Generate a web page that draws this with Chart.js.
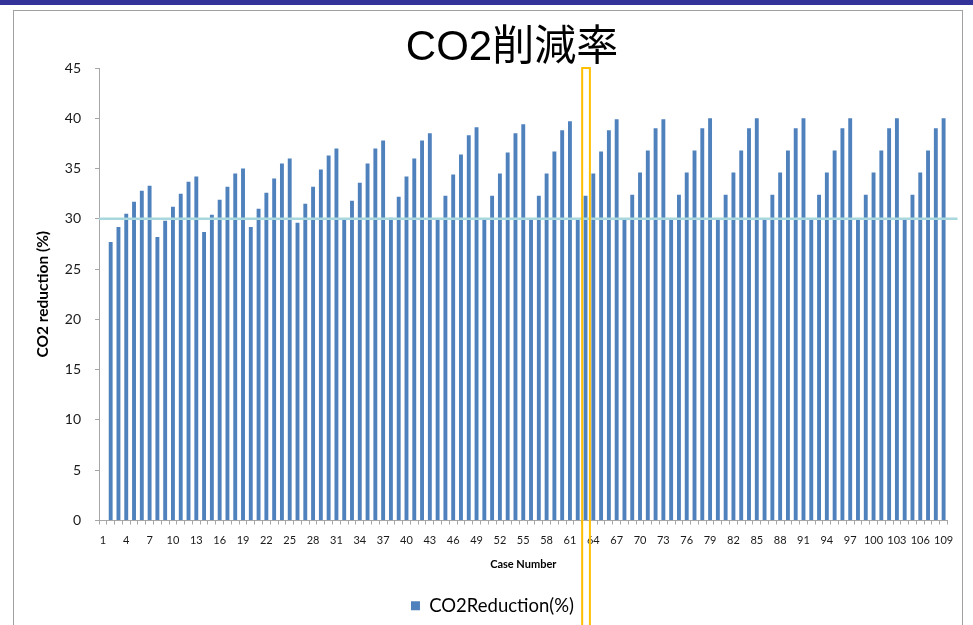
<!DOCTYPE html>
<html>
<head>
<meta charset="utf-8">
<title>CO2削減率</title>
<script src="https://cdn.jsdelivr.net/npm/chart.js@4/dist/chart.umd.min.js"></script>
<style>
  html, body { margin: 0; padding: 0; background: #ffffff; }
  #wrap { position: relative; width: 973px; height: 625px; }
  canvas { display: block; }
</style>
</head>
<body>
<div id="wrap"><canvas id="chart" width="973" height="625"></canvas></div>
<script>
// Case numbers along the horizontal axis
const caseNumbers = [
  1, 2, 3, 4, 5, 6, 7, 8, 9, 10, 11, 12, 13, 14, 15, 16, 17, 18, 19, 20,
  21, 22, 23, 24, 25, 26, 27, 28, 29, 30, 31, 32, 33, 34, 35, 36, 37, 38, 39, 40,
  41, 42, 43, 44, 45, 46, 47, 48, 49, 50, 51, 52, 53, 54, 55, 56, 57, 58, 59, 60,
  61, 62, 63, 64, 65, 66, 67, 68, 69, 70, 71, 72, 73, 74, 75, 76, 77, 78, 79, 80,
  81, 82, 83, 84, 85, 86, 87, 88, 89, 90, 91, 92, 93, 94, 95, 96, 97, 98, 99, 100,
  101, 102, 103, 104, 105, 106, 107, 108, 109
];

// CO2 reduction (%) per case (case 1 has no value)
const co2Reduction = [
  null, 27.7, 29.2, 30.5, 31.7, 32.8, 33.3,
  28.2, 29.8, 31.2, 32.5, 33.7, 34.2,
  28.7, 30.4, 31.9, 33.2, 34.5, 35.0,
  29.2, 31.0, 32.6, 34.0, 35.5, 36.0,
  29.6, 31.5, 33.2, 34.9, 36.3, 37.0,
  29.9, 31.8, 33.6, 35.5, 37.0, 37.8,
  30.1, 32.2, 34.2, 36.0, 37.8, 38.5,
  30.0, 32.3, 34.4, 36.4, 38.3, 39.1,
  30.0, 32.3, 34.5, 36.6, 38.5, 39.4,
  30.0, 32.3, 34.5, 36.7, 38.8, 39.7,
  30.0, 32.3, 34.5, 36.7, 38.8, 39.9,
  30.0, 32.4, 34.6, 36.8, 39.0, 39.9,
  30.0, 32.4, 34.6, 36.8, 39.0, 40.0,
  30.0, 32.4, 34.6, 36.8, 39.0, 40.0,
  30.0, 32.4, 34.6, 36.8, 39.0, 40.0,
  30.0, 32.4, 34.6, 36.8, 39.0, 40.0,
  30.0, 32.4, 34.6, 36.8, 39.0, 40.0,
  30.0, 32.4, 34.6, 36.8, 39.0, 40.0
];

// Value-axis range and tick spacing
const yMin = 0;
const yMax = 45;
const yStep = 5;

// Show every third case number as a tick label
const xLabelEvery = 3;

// Reference level and the highlighted case
const targetLevel = 30;
const highlightedCase = 63;

const chartTitle = 'CO2削減率';
const seriesName = 'CO2Reduction(%)';
const yAxisTitle = 'CO2 reduction (%)';
const xAxisTitle = 'Case Number';

const BAR_BLUE = '#4f81bd';
const AXIS_GRAY = '#a6a6a6';

// Slide band, frame and white background behind the chart
const slideFrame = {
  id: 'slideFrame',
  beforeDraw(chart) {
    const ctx = chart.ctx;
    ctx.save();
    ctx.fillStyle = '#ffffff';
    ctx.fillRect(0, 0, chart.width, chart.height);
    ctx.fillStyle = '#333399';
    ctx.fillRect(0, 0, chart.width, 5);
    ctx.strokeStyle = '#a0a0a0';
    ctx.lineWidth = 1;
    ctx.strokeRect(13.5, 10.5, 949, chart.height + 20);
    ctx.restore();
  }
};

// Horizontal reference line at the target level
const targetLine = {
  id: 'targetLine',
  afterDatasetsDraw(chart) {
    const { ctx, chartArea, scales } = chart;
    const y = scales.y.getPixelForValue(targetLevel);
    ctx.save();
    ctx.strokeStyle = '#a9d7de';
    ctx.lineWidth = 2.5;
    ctx.beginPath();
    ctx.moveTo(chartArea.left, y);
    ctx.lineTo(chartArea.right + 10, y);
    ctx.stroke();
    ctx.restore();
  }
};

// Outline around the highlighted case, from the top of the value axis down
const caseHighlight = {
  id: 'caseHighlight',
  afterDraw(chart) {
    const { ctx, scales } = chart;
    const idx = caseNumbers.indexOf(highlightedCase);
    const x = scales.x.getPixelForValue(idx);
    const half = (scales.x.width / caseNumbers.length) * 0.56;
    const top = scales.y.getPixelForValue(yMax);
    ctx.save();
    ctx.strokeStyle = '#ffc000';
    ctx.lineWidth = 2;
    ctx.strokeRect(x - half + 1, top, half * 2 - 1, chart.height - top + 10);
    ctx.restore();
  }
};

// Chart heading
const chartHeading = {
  id: 'chartHeading',
  afterDraw(chart) {
    const ctx = chart.ctx;
    ctx.save();
    ctx.fillStyle = '#000000';
    ctx.font = '42px "Liberation Sans", "Noto Sans CJK JP", sans-serif';
    ctx.textAlign = 'center';
    ctx.textBaseline = 'middle';
    ctx.fillText(chartTitle, 512, 48);
    ctx.restore();
  }
};

new Chart(document.getElementById('chart'), {
  type: 'bar',
  data: {
    labels: caseNumbers,
    datasets: [{
      label: seriesName,
      data: co2Reduction,
      backgroundColor: BAR_BLUE,
      borderWidth: 0,
      categoryPercentage: 1.0,
      barPercentage: 0.5
    }]
  },
  options: {
    responsive: false,
    devicePixelRatio: 1,
    animation: false,
    layout: { padding: { left: 37.5, right: 25.5, top: 68, bottom: 0 } },
    plugins: {
      title: { display: false },
      tooltip: { enabled: false },
      legend: {
        position: 'bottom',
        labels: {
          boxWidth: 9,
          boxHeight: 9,
          padding: 10,
          color: '#000000',
          font: { family: 'Lato', size: 18.5 }
        }
      }
    },
    scales: {
      x: {
        offset: true,
        grid: {
          display: true,
          offset: true,
          drawOnChartArea: false,
          drawTicks: true,
          tickLength: 4,
          color: AXIS_GRAY
        },
        border: { display: true, color: AXIS_GRAY, width: 1 },
        ticks: {
          autoSkip: false,
          maxRotation: 0,
          minRotation: 0,
          padding: 9,
          color: '#1a1a1a',
          font: { family: 'Lato', size: 11 },
          callback: (value, index) => (index % xLabelEvery === 0 ? String(caseNumbers[index]) : '')
        },
        title: {
          display: true,
          text: xAxisTitle,
          color: '#000000',
          font: { family: 'Lato', size: 11, weight: 'bold' },
          padding: { top: 0, bottom: 15.4 }
        },
        afterFit: (scale) => { scale.height = 66; }
      },
      y: {
        min: yMin,
        max: yMax,
        grid: {
          drawOnChartArea: false,
          drawTicks: true,
          tickLength: 4,
          color: AXIS_GRAY
        },
        border: { display: true, color: AXIS_GRAY, width: 1 },
        ticks: {
          stepSize: yStep,
          padding: 14,
          color: '#1a1a1a',
          font: { family: 'Lato', size: 14 }
        },
        title: {
          display: true,
          text: yAxisTitle,
          color: '#000000',
          font: { family: 'Lato', size: 15.5, weight: 'bold' },
          padding: { top: -4, bottom: 0 }
        },
        afterFit: (scale) => { scale.width = 61.5; }
      }
    }
  },
  plugins: [slideFrame, targetLine, caseHighlight, chartHeading]
});
</script>
</body>
</html>
